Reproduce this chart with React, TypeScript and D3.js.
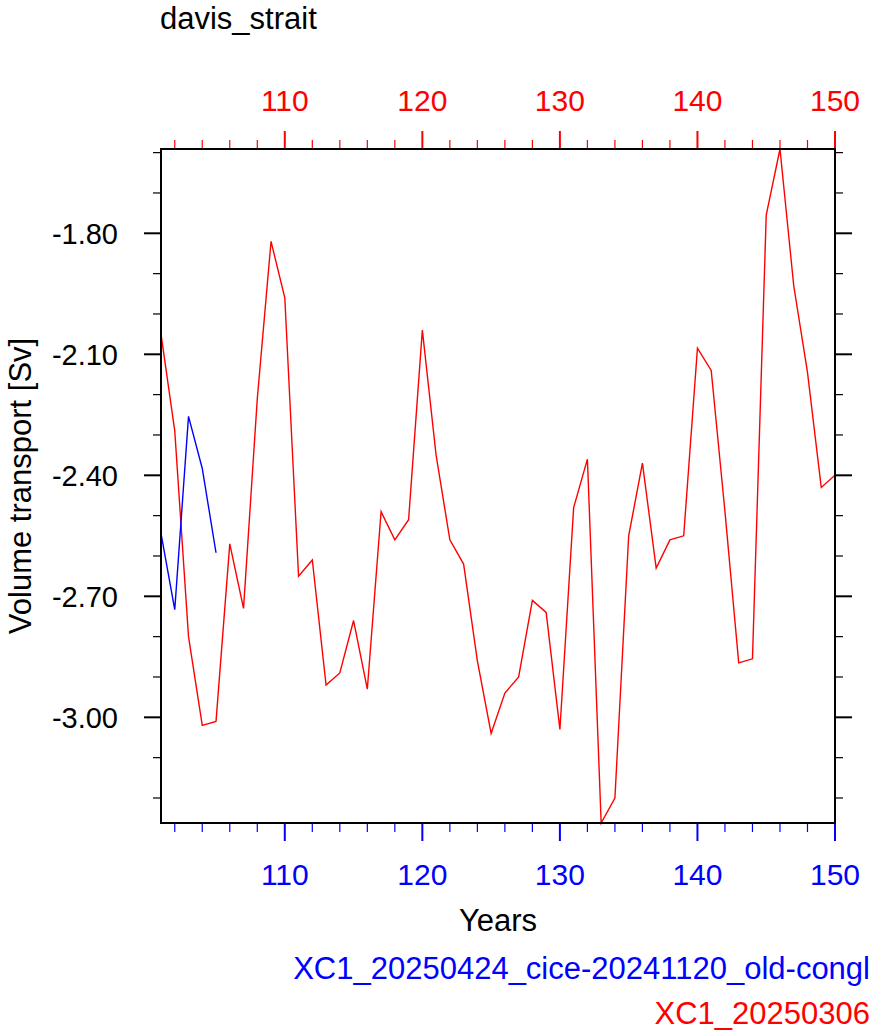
import * as d3 from "d3";
import { useEffect, useRef } from "react";

// years on the x axis
const years = d3.range(101, 151);

// XC1_20250306 (red), one value per year 101..150
const redValues = [
  -2.05, -2.29, -2.80, -3.02, -3.01, -2.57, -2.73, -2.21, -1.82, -1.96,
  -2.65, -2.61, -2.92, -2.89, -2.76, -2.93, -2.49, -2.56, -2.51, -2.04,
  -2.35, -2.56, -2.62, -2.86, -3.04, -2.94, -2.90, -2.71, -2.74, -3.03,
  -2.48, -2.36, -3.262, -3.20, -2.55, -2.37, -2.63, -2.56, -2.55, -2.085,
  -2.14, -2.49, -2.865, -2.855, -1.755, -1.591, -1.93, -2.145, -2.43, -2.40,
];

// XC1_20250424_cice-20241120_old-congl (blue), years 101..105
const blueValues = [-2.544, -2.733, -2.254, -2.383, -2.592];

const xMajorTicks = [110, 120, 130, 140, 150];
const xMinorTicks = [102, 104, 106, 108, 112, 114, 116, 118, 122, 124, 126, 128, 132, 134, 136, 138, 142, 144, 146, 148];
const yMajorTicks = [-1.8, -2.1, -2.4, -2.7, -3.0];
const yMinorTicks = [-1.6, -1.7, -1.9, -2.0, -2.2, -2.3, -2.5, -2.6, -2.8, -2.9, -3.1, -3.2];

const legendNames = ["XC1_20250424_cice-20241120_old-congl", "XC1_20250306"];
const legendColors = ["blue", "red"];

export default function App() {
  const ref = useRef<SVGSVGElement>(null);

  useEffect(() => {
    const W = 875, H = 1035;
    const left = 161, right = 835, top = 149, bottom = 823;
    const font = "'Liberation Sans', Arial, Helvetica, sans-serif";

    const svg = d3.select(ref.current!);
    svg.selectAll("*").remove();
    svg.attr("width", W).attr("height", H).style("font-family", font);

    const x = d3.scaleLinear().domain([101, 150]).range([left, right]);
    const all = redValues.concat(blueValues);
    const y = d3.scaleLinear().domain(d3.extent(all) as [number, number]).range([bottom, top]);

    svg.append("rect").attr("width", W).attr("height", H).attr("fill", "white");

    // series
    const line = d3.line<[number, number]>().x(d => x(d[0])).y(d => y(d[1]));
    const redPts = years.map((yr, i) => [yr, redValues[i]] as [number, number]);
    const bluePts = blueValues.map((v, i) => [years[i], v] as [number, number]);

    svg.append("path").attr("d", line(redPts)).attr("fill", "none")
      .attr("stroke", "red").attr("stroke-width", 1.4);
    svg.append("path").attr("d", line(bluePts)).attr("fill", "none")
      .attr("stroke", "blue").attr("stroke-width", 1.4);

    // x ticks, bottom blue / top red, pointing out
    const xt = (vals: number[], len: number, sw: number) => {
      svg.append("g").selectAll("line").data(vals).enter().append("line")
        .attr("x1", d => x(d)).attr("x2", d => x(d))
        .attr("y1", bottom).attr("y2", bottom + len)
        .attr("stroke", "blue").attr("stroke-width", sw);
      svg.append("g").selectAll("line").data(vals).enter().append("line")
        .attr("x1", d => x(d)).attr("x2", d => x(d))
        .attr("y1", top).attr("y2", top - len)
        .attr("stroke", "red").attr("stroke-width", sw);
    };
    xt(xMinorTicks, 9, 1.2);
    xt(xMajorTicks, 18, 2);

    // y ticks, both sides, black
    const yt = (vals: number[], len: number, sw: number) => {
      svg.append("g").selectAll("line").data(vals).enter().append("line")
        .attr("x1", left).attr("x2", left - len)
        .attr("y1", d => y(d)).attr("y2", d => y(d))
        .attr("stroke", "black").attr("stroke-width", sw);
      svg.append("g").selectAll("line").data(vals).enter().append("line")
        .attr("x1", right).attr("x2", right + len)
        .attr("y1", d => y(d)).attr("y2", d => y(d))
        .attr("stroke", "black").attr("stroke-width", sw);
    };
    yt(yMinorTicks, 8, 1.2);
    yt(yMajorTicks, 17, 2);

    // frame
    svg.append("rect").attr("x", left).attr("y", top)
      .attr("width", right - left).attr("height", bottom - top)
      .attr("fill", "none").attr("stroke", "black").attr("stroke-width", 2);

    // tick labels
    svg.append("g").selectAll("text").data(xMajorTicks).enter().append("text")
      .attr("x", d => x(d)).attr("y", bottom + 62)
      .attr("text-anchor", "middle").attr("font-size", 30).attr("fill", "blue")
      .text(d => d);
    svg.append("g").selectAll("text").data(xMajorTicks).enter().append("text")
      .attr("x", d => x(d)).attr("y", top - 38)
      .attr("text-anchor", "middle").attr("font-size", 30).attr("fill", "red")
      .text(d => d);
    svg.append("g").selectAll("text").data(yMajorTicks).enter().append("text")
      .attr("x", left - 43).attr("y", d => y(d)).attr("dy", "0.36em")
      .attr("text-anchor", "end").attr("font-size", 29).attr("fill", "black")
      .text(d => d.toFixed(2));

    // titles
    svg.append("text").attr("x", left - 1).attr("y", 29)
      .attr("font-size", 31).text("davis_strait");
    svg.append("text").attr("x", (left + right) / 2).attr("y", 931)
      .attr("text-anchor", "middle").attr("font-size", 31).text("Years");
    svg.append("text").attr("transform", `translate(31, ${(top + bottom) / 2}) rotate(-90)`)
      .attr("text-anchor", "middle").attr("font-size", 31).text("Volume transport [Sv]");

    // legend text
    svg.append("g").selectAll("text").data(legendNames).enter().append("text")
      .attr("x", 870).attr("y", (d, i) => 979 + i * 45)
      .attr("text-anchor", "end").attr("font-size", 31)
      .attr("fill", (d, i) => legendColors[i])
      .text(d => d);
  }, []);

  return (
    <div style={{ position: "absolute", left: 0, top: 0 }}>
      <svg ref={ref}></svg>
    </div>
  );
}
